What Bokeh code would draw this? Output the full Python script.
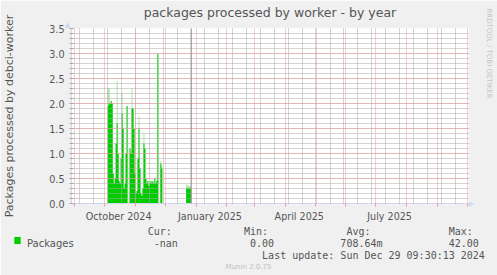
import math
import pandas as pd
from bokeh.plotting import figure
from bokeh.models import (Label, Span, FixedTicker, DatetimeTickFormatter,
                          PrintfTickFormatter, Range1d, ColumnDataSource, Grid)
from bokeh.embed import file_html
from bokeh.resources import INLINE

# ---------------- data ----------------
title_text = "packages processed by worker - by year"
y_label_text = "Packages processed by debci-worker"
series_name = "Packages"
start_day = "2024-10-04"
nan = float("nan")
# daily average (solid green)
daily_values = [
    1.95, 2.0, 2.0, 2.05, 2.0, 0.6, 0.4, 0.5, 1.2, 1.6,
    1.0, 0.45, 0.4, 0.9, 1.8, 1.5, 0.3, 0.4, 1.0, 1.95,
    nan, nan,
    1.1, 1.0, 1.9, 1.9, 1.5, 0.6, 0.2, 0.25, 0.9, 1.5,
    0.7, 0.2, 0.15, 0.3, 1.2, 1.1, 0.5,
    0.4, 0.45, 0.35, 0.4, 0.45, 0.4, 0.45, 0.4, 0.5, 0.4,
    0.45, 3.0,
    nan, nan,
    0.8, 0.7,
    nan, nan, nan, nan, nan, nan, nan, nan, nan, nan, nan, nan,
    nan, nan, nan, nan, nan, nan, nan, nan, nan, nan, nan, nan,
    0.3, 0.3, 0.3, 0.3, 0.3,
]
# daily peak (pale green tops)
daily_peaks = [
    2.3, 2.3, 2.0, 2.05, 2.0, 0.6, 0.4, 0.5, 1.2, 2.45,
    1.0, 0.45, 0.4, 0.9, 2.2, 1.5, 0.3, 0.4, 1.0, 1.95,
    nan, nan,
    1.1, 1.0, 2.3, 1.9, 1.5, 0.6, 0.2, 0.25, 0.9, 1.75,
    0.7, 0.2, 0.15, 0.3, 1.4, 1.1, 0.5,
    0.4, 0.45, 0.35, 0.4, 0.45, 0.4, 0.45, 0.4, 0.5, 0.4,
    0.45, 3.0,
    nan, nan,
    0.85, 0.75,
    nan, nan, nan, nan, nan, nan, nan, nan, nan, nan, nan, nan,
    nan, nan, nan, nan, nan, nan, nan, nan, nan, nan, nan, nan,
    0.38, 0.38, 0.35, 0.35, 0.35,
]
now_marker = "2024-12-27"
x_start = "2024-08-28 12:00"
x_end = "2025-10-02 12:00"
y_max = 3.5
quarter_label_days = ["2024-10-15", "2025-01-15", "2025-04-15", "2025-07-15"]
biweekly_anchor = "2025-07-11"
stats_headers = ["Cur:", "Min:", "Avg:", "Max:"]
stats_values = ["-nan", "0.00", "708.64m", "42.00"]
last_update = "Last update: Sun Dec 29 09:30:13 2024"
footer_text = "Munin 2.0.75"
watermark_text = "RRDTOOL / TOBI OETIKER"

# ---------------- styles ----------------
GREEN = "#00CC00"
PALE_GREEN = "#A8EAA8"
FONT_COL = "#555555"
AXIS_COL = "#CFD6F8"
MAJOR_GRID = "#EE9A9A"
MINOR_GRID = "#A8A8A8"
SANS = "DejaVu Sans"
MONO = "DejaVu Sans Mono"
DAY_MS = 86400000.0
NB = "\u00a0"


def ms(s):
    return pd.Timestamp(s).value / 1e6


def step_polys(vals):
    days = pd.date_range(start_day, periods=len(vals), freq="D")
    pxs, pys, rx, ry = [], [], [], []
    for d, v in zip(days, vals):
        if math.isnan(v):
            if rx:
                pxs.append(rx + [rx[-1], rx[0]])
                pys.append(ry + [0, 0])
                rx, ry = [], []
            continue
        a = ms(d)
        rx += [a, a + DAY_MS]
        ry += [v, v]
    if rx:
        pxs.append(rx + [rx[-1], rx[0]])
        pys.append(ry + [0, 0])
    return ColumnDataSource(dict(xs=pxs, ys=pys))


x0, x1 = ms(x_start), ms(x_end)

p = figure(width=497, height=275, x_axis_type="datetime",
           x_range=Range1d(x0, x1), y_range=Range1d(0, y_max),
           output_backend="svg", toolbar_location=None,
           min_border_left=67, min_border_right=29,
           min_border_top=28, min_border_bottom=72)
p.border_fill_color = "#F0F0F0"
p.background_fill_color = "#FFFFFF"
p.outline_line_color = None

p.title.text = title_text
p.title.align = "center"
p.title.offset = -19.5
p.title.text_font = SANS
p.title.text_font_size = "12.5px"
p.title.text_font_style = "normal"
p.title.text_color = FONT_COL
p.title.standoff = 2

p.patches(xs="xs", ys="ys", source=step_polys(daily_peaks),
          fill_color=PALE_GREEN, line_color=None)
p.patches(xs="xs", ys="ys", source=step_polys(daily_values),
          fill_color=GREEN, line_color=None)

# ticks / grids
month_starts = [ms(t) for t in pd.date_range("2024-08-01", "2025-11-01", freq="MS")]
month_starts = [m for m in month_starts if x0 <= m <= x1]
anchor = pd.Timestamp(biweekly_anchor)
biweekly = [ms(anchor + pd.Timedelta(days=14 * k)) for k in range(-30, 10)]
biweekly = [b for b in biweekly if x0 <= b <= x1]
label_ticks = [ms(d) for d in quarter_label_days]

p.xaxis.ticker = FixedTicker(ticks=label_ticks, minor_ticks=month_starts)
p.xaxis.formatter = DatetimeTickFormatter(
    years="%B %Y", months="%B %Y", days="%B %Y", hours="%B %Y",
    hourmin="%B %Y", minutes="%B %Y", minsec="%B %Y", seconds="%B %Y",
    milliseconds="%B %Y", microseconds="%B %Y")
p.xaxis.major_tick_out = 0
p.xaxis.major_tick_in = 0
p.xaxis.minor_tick_out = 3
p.xaxis.minor_tick_in = 0
p.xaxis.minor_tick_line_color = MAJOR_GRID
p.xaxis.major_label_standoff = 4

yt = [i * 0.5 for i in range(8)]
ym = [round(i * 0.1, 1) for i in range(36)]
p.yaxis.ticker = FixedTicker(ticks=yt, minor_ticks=ym)
p.yaxis.formatter = PrintfTickFormatter(format="%.1f")
p.yaxis.major_tick_out = 2
p.yaxis.major_tick_in = 2
p.yaxis.minor_tick_out = 2
p.yaxis.minor_tick_in = 2
p.yaxis.major_tick_line_color = MAJOR_GRID
p.yaxis.minor_tick_line_color = MINOR_GRID
p.yaxis.major_label_standoff = 5
p.yaxis.axis_label = y_label_text
p.yaxis.axis_label_text_font = SANS
p.yaxis.axis_label_text_font_size = "11px"
p.yaxis.axis_label_text_font_style = "normal"
p.yaxis.axis_label_text_color = FONT_COL
p.yaxis.axis_label_standoff = 30

for ax in (p.xaxis, p.yaxis):
    ax.axis_line_color = AXIS_COL
    ax.major_label_text_font = SANS
    ax.major_label_text_font_size = "9.6px"
    ax.major_label_text_color = FONT_COL

# minor (grey) grid first, then major (red) grid, both over the area
p.xgrid.visible = False
p.ygrid.visible = False
p.add_layout(Grid(dimension=0, ticker=FixedTicker(ticks=biweekly), level="guide",
                  grid_line_color=MINOR_GRID, grid_line_dash="1 1"))
p.add_layout(Grid(dimension=1, ticker=FixedTicker(ticks=ym), level="guide",
                  grid_line_color=MINOR_GRID, grid_line_dash="1 1"))
p.add_layout(Grid(dimension=0, ticker=FixedTicker(ticks=month_starts), level="guide",
                  grid_line_color=MAJOR_GRID, grid_line_dash="1 1"))
p.add_layout(Grid(dimension=1, ticker=FixedTicker(ticks=yt), level="guide",
                  grid_line_color=MAJOR_GRID, grid_line_dash="1 1"))

# now marker
p.add_layout(Span(location=ms(now_marker), dimension="height",
                  line_color="#909090", line_width=1))


def lab(text, cx, cy, size, font=SANS, color=FONT_COL, align="left",
        baseline="alphabetic", angle=0.0, side="below", **kw):
    p.add_layout(Label(x=cx, y=cy, x_units="canvas", y_units="canvas",
                       text=text, text_font=font, text_font_size=size,
                       text_color=color, text_align=align,
                       text_baseline=baseline, angle=angle, **kw), side)


def row(items, origin_col_px=147.2, cw=6.02):
    # items: list of (canvas x, text) -> one monospace line
    s = ""
    for x, t in items:
        col = int(round((x - origin_col_px) / cw))
        s += NB * max(col - len(s), 0) + t
    return s


# side texts (canvas coords)
lab(watermark_text, 488, 53, "7px", color="#C4C4C4", align="center",
    baseline="middle", angle=-math.pi / 2, side="right")
lab("\u25B6", 471, 203, "7px", color=AXIS_COL, align="center",
    baseline="middle", side="right")
lab("\u25B2", 67, 24.5, "7px", color=AXIS_COL, align="center",
    baseline="middle", side="right")
lab(footer_text, 248, 266.5, "7px", color="#C0C0C0", align="center",
    side="above")

# legend block
lab(NB, 17, 240, "1px", align="center", baseline="middle",
    background_fill_color=GREEN, padding=3)
lab(series_name, 26.5, 243, "10px")
hx = [145, 244, 346.7, 447]
vx = [151.7, 251.7, 340.7, 447]
lab(row(list(zip(hx, stats_headers))), 147.2, 231, "10px", font=MONO)
lab(row(list(zip(vx, stats_values))), 147.2, 242.8, "10px", font=MONO)
lab(row([(261.7, last_update)]), 147.2, 254.6, "10px", font=MONO)

open("out.html", "w").write(file_html(p, INLINE))
